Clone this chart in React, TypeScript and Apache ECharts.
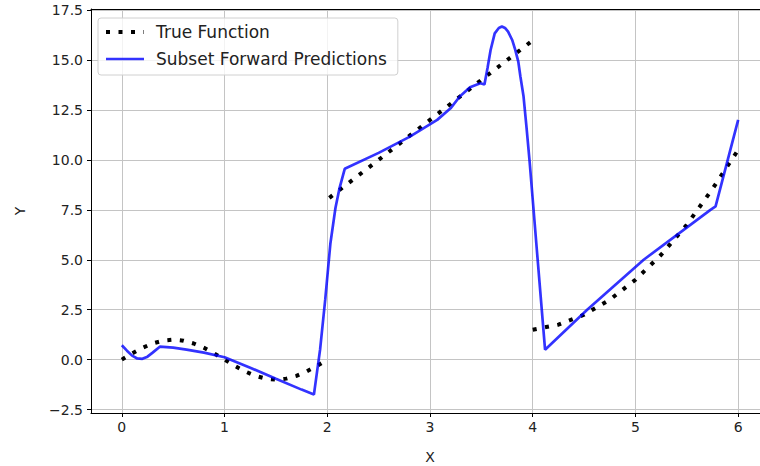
import React, { useEffect, useRef } from 'react';
import * as echarts from 'echarts';

const xTicks = [0, 1, 2, 3, 4, 5, 6];
const yTicks = [-2.5, 0, 2.5, 5, 7.5, 10, 12.5, 15, 17.5];

// True Function (null marks a break between pieces)
const trueX = [0, 0.1, 0.2, 0.3, 0.4, 0.5, 0.6, 0.7, 0.8, 0.9, 1.0, 1.1, 1.2, 1.3, 1.4, 1.5, 1.6, 1.7, 1.8, 1.9, 1.98,
  1.99,
  2.02, 2.5, 3.0, 3.5, 3.98,
  3.99,
  4.0, 4.25, 4.5, 4.75, 5.0, 5.25, 5.5, 5.75, 6.0];
const trueY = [0, 0.31, 0.59, 0.81, 0.95, 1.0, 0.95, 0.81, 0.59, 0.31, 0, -0.31, -0.59, -0.81, -0.95, -1.0, -0.95, -0.81, -0.59, -0.31, -0.06,
  null,
  8.1, 10.0, 12.0, 14.0, 15.9,
  null,
  1.5, 1.75, 2.25, 3.0, 4.0, 5.25, 6.75, 8.55, 10.5];

// Subset Forward Predictions
const predX = [0, 0.05, 0.1, 0.15, 0.2, 0.25, 0.3, 0.37, 0.5, 0.63, 0.8, 1.0, 1.25, 1.5, 1.75, 1.87,
  1.93, 1.98, 2.03, 2.08, 2.12, 2.17, 2.5, 2.8, 3.07, 3.2, 3.29, 3.39, 3.49, 3.53,
  3.56, 3.59, 3.63, 3.67, 3.7, 3.73, 3.76, 3.8, 3.83, 3.86, 3.88, 3.91, 3.94, 3.97, 4.04, 4.12,
  4.53, 5.08, 5.73, 5.78, 6.0];
const predY = [0.72, 0.45, 0.2, 0.06, 0.04, 0.15, 0.35, 0.65, 0.6, 0.5, 0.35, 0.12, -0.4, -0.96, -1.5, -1.75,
  0.5, 3.0, 5.8, 7.6, 8.6, 9.55, 10.35, 11.15, 12.0, 12.58, 13.17, 13.63, 13.83, 13.77,
  14.6, 15.5, 16.33, 16.6, 16.67, 16.6, 16.42, 16.0, 15.5, 14.9, 14.17, 13.2, 11.6, 9.9, 5.5, 0.5,
  2.5, 5.0, 7.5, 7.67, 12.0];

const fmt = (v: number) => v.toFixed(1).replace('-', '\u2212');
const FONT = 'DejaVu Sans';
const DOTS = [4, 8.5];
const BLUE = 'rgba(0,0,255,0.8)';

export default function App() {
  const ref = useRef<HTMLDivElement>(null);
  useEffect(() => {
    document.body.style.margin = '0';
    const chart = echarts.init(ref.current!, null, { renderer: 'svg' });
    const trueData = trueX.map((x, i) => [x, trueY[i]]);
    const predData = predX.map((x, i) => [x, predY[i]]);
    chart.setOption({
      animation: false,
      backgroundColor: '#fff',
      grid: { left: 91, top: 9, right: -9, bottom: 53, outerBoundsMode: 'none', containLabel: false },
      legend: {
        data: [
          { name: 'True Function', lineStyle: { width: 4, type: DOTS, cap: 'butt', color: '#000' } },
          { name: 'Subset Forward Predictions', lineStyle: { width: 2.7, color: BLUE } },
        ],
        orient: 'vertical',
        left: 98,
        top: 18,
        itemWidth: 38,
        itemHeight: 20,
        itemGap: 7,
        padding: [4, 11, 6, 6],
        itemStyle: { opacity: 0 },
        backgroundColor: 'rgba(255,255,255,0.8)',
        borderColor: '#d0d0d0',
        borderWidth: 1,
        borderRadius: 3,
        textStyle: { fontFamily: FONT, fontSize: 17, lineHeight: 20, color: '#222', padding: [0, 0, 0, 7] },
      },
      xAxis: [
        {
          type: 'value',
          min: -0.3,
          max: 6.3,
          name: 'X',
          nameLocation: 'middle',
          nameGap: 37,
          nameTextStyle: { fontFamily: FONT, fontSize: 14, color: '#222' },
          axisLine: { show: true, onZero: false, lineStyle: { color: '#000', width: 1 } },
          axisTick: { show: true, length: 4, customValues: xTicks, lineStyle: { color: '#000' } },
          axisLabel: { customValues: xTicks, margin: 7, fontFamily: FONT, fontSize: 14, color: '#222', formatter: (v: number) => String(v) },
          splitLine: { show: true, lineStyle: { color: '#c4c4c4', width: 1 } },
        },
        {
          type: 'value',
          position: 'top',
          min: -0.3,
          max: 6.3,
          axisLine: { show: true, onZero: false, lineStyle: { color: '#000', width: 1 } },
          axisTick: { show: false },
          axisLabel: { show: false },
          splitLine: { show: false },
        },
      ],
      yAxis: {
        type: 'value',
        min: -2.67,
        max: 17.55,
        name: 'Y',
        nameLocation: 'middle',
        nameGap: 64,
        nameTextStyle: { fontFamily: FONT, fontSize: 14, color: '#222' },
        axisLine: { show: true, onZero: false, lineStyle: { color: '#000', width: 1 } },
        axisTick: { show: true, length: 4, customValues: yTicks, lineStyle: { color: '#000' } },
        axisLabel: { customValues: yTicks, margin: 8, fontFamily: FONT, fontSize: 14, color: '#222', formatter: fmt },
        splitLine: { show: true, lineStyle: { color: '#c4c4c4', width: 1 } },
      },
      series: [
        {
          name: 'True Function',
          type: 'line',
          data: trueData,
          symbol: 'none',
          connectNulls: false,
          lineStyle: { color: '#000', width: 4, type: DOTS, cap: 'butt' },
          itemStyle: { color: '#000' },
        },
        {
          name: 'Subset Forward Predictions',
          type: 'line',
          data: predData,
          symbol: 'none',
          lineStyle: { color: BLUE, width: 2.7 },
          itemStyle: { color: BLUE },
        },
      ],
    });
    return () => chart.dispose();
  }, []);
  return <div ref={ref} style={{ width: 760, height: 466 }} />;
}
